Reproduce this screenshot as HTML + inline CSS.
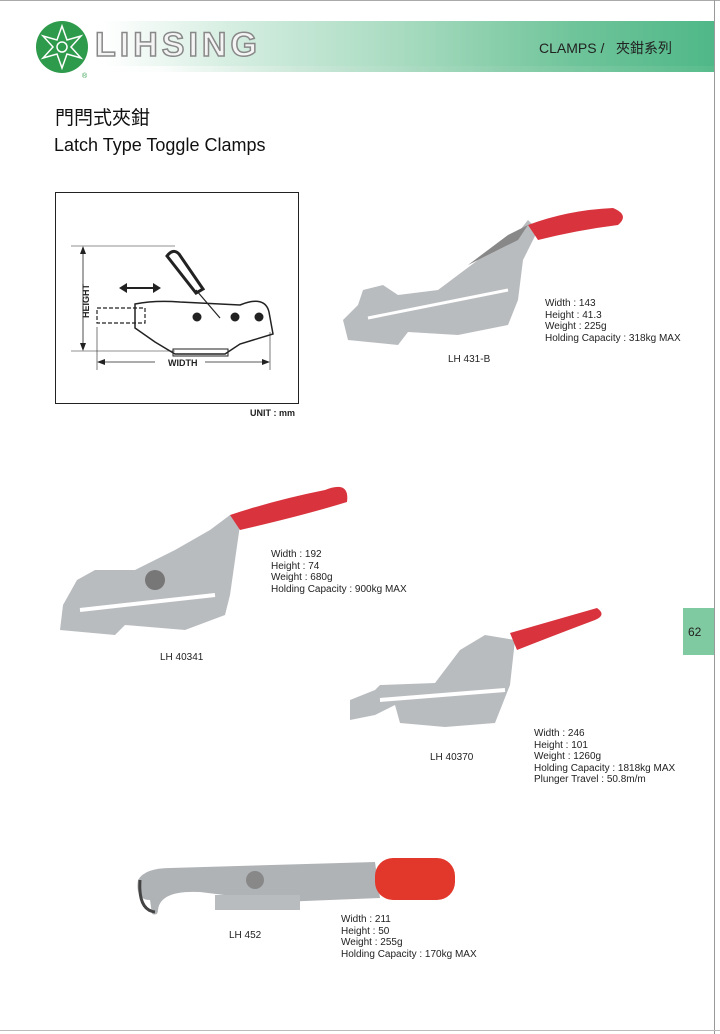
<!DOCTYPE html>
<html><head><meta charset="utf-8"><style>
body{margin:0;width:720px;height:1034px;background:#fff;position:relative;overflow:hidden;font-family:"Liberation Sans","Noto Sans CJK TC",sans-serif;}
.a{position:absolute;}
.spec{font-size:10px;line-height:11.5px;color:#222;}
.lab{font-size:10px;color:#222;}
</style></head><body>
<div class="a" style="left:0;top:0;width:720px;height:1px;background:#aaa"></div>
<div class="a" style="left:714px;top:0;width:1px;height:1034px;background:#999"></div>
<div class="a" style="left:0;top:1030px;width:720px;height:1px;background:#bbb"></div>
<div class="a" style="left:20px;top:21px;width:694px;height:51px;background:linear-gradient(to right,#fff 0%,#fff 12%,#d6eee2 30%,#a8dbc0 55%,#6fc49a 80%,#4fb888 100%)"></div>
<div class="a" style="left:20px;top:66px;width:694px;height:6px;background:linear-gradient(to right,#fff 20%,#cfe9db 40%,#8fd0af 70%,#5bbd8d 100%);opacity:.8"></div>
<svg class="a" style="left:30px;top:18px" width="64" height="62" viewBox="0 0 64 62">
<ellipse cx="32" cy="29" rx="26" ry="26" fill="#2e9a4b"/>
<g fill="none" stroke="#fff" stroke-width="1.5">
<polygon points="32,8 37,22 51,18 41,29 51,40 37,36 32,50 27,36 13,40 23,29 13,18 27,22"/>
<circle cx="32" cy="29" r="5"/>
</g>
<text x="52" y="60" font-size="7" fill="#2e9a4b" font-family="Liberation Sans">®</text>
</svg>
<div class="a" style="left:95px;top:26px;font-size:34px;font-weight:bold;letter-spacing:4px;color:#f4f4f4;-webkit-text-stroke:1.5px #888;font-family:'Liberation Sans',sans-serif;">LIHSING</div>
<div class="a" style="left:539px;top:38px;font-size:14px;color:#222">CLAMPS /&nbsp;&nbsp; 夾鉗系列</div>
<div class="a" style="left:55px;top:103px;font-size:19px;color:#111">門閂式夾鉗</div>
<div class="a" style="left:54px;top:135px;font-size:18px;color:#111">Latch Type Toggle Clamps</div>

<div class="a" style="left:55px;top:192px;width:242px;height:210px;border:1.5px solid #222"></div>
<svg class="a" style="left:55px;top:192px" width="245" height="215" viewBox="0 0 245 215">
<g stroke="#222" fill="none">
<line x1="16" y1="54" x2="120" y2="54" stroke-width="0.6"/>
<line x1="16" y1="159" x2="120" y2="159" stroke-width="0.6"/>
<line x1="28" y1="56" x2="28" y2="157" stroke-width="0.8"/>
<line x1="42" y1="135" x2="42" y2="178" stroke-width="0.6"/>
<line x1="215" y1="140" x2="215" y2="178" stroke-width="0.6"/>
<line x1="44" y1="170" x2="100" y2="170" stroke-width="0.8"/>
<line x1="150" y1="170" x2="213" y2="170" stroke-width="0.8"/>
<line x1="70" y1="96" x2="100" y2="96" stroke-width="2"/>
<path d="M112 64 Q118 56 124 62 L148 97 L141 101 Z" stroke-width="3"/>
<path d="M141 98 L165 126" stroke-width="1.2"/>
<rect x="42" y="116" width="48" height="15" stroke-width="1.2" stroke-dasharray="4,2"/>
<path d="M80 112 Q100 108 125 110 L185 113 Q210 103 214 120 L218 142 L185 152 L170 162 L120 162 L100 150 L80 136 Z" stroke-width="1.5"/>
<rect x="118" y="157" width="55" height="7" stroke-width="1"/>
<circle cx="142" cy="125" r="4" fill="#222"/><circle cx="180" cy="125" r="4" fill="#222"/><circle cx="204" cy="125" r="4" fill="#222"/>
</g>
<polygon points="64,96 72,91 72,101" fill="#222"/><polygon points="106,96 98,91 98,101" fill="#222"/>
<polygon points="28,54 25,62 31,62" fill="#222"/><polygon points="28,159 25,151 31,151" fill="#222"/>
<polygon points="42,170 50,167 50,173" fill="#222"/><polygon points="215,170 207,167 207,173" fill="#222"/>
<text x="113" y="174" font-size="9" font-weight="bold" font-family="Liberation Sans" fill="#222">WIDTH</text>
<text transform="translate(34,126) rotate(-90)" font-size="9" font-weight="bold" font-family="Liberation Sans" fill="#222">HEIGHT</text>
</svg>
<div class="a" style="left:250px;top:408px;font-size:9px;font-weight:bold;color:#222">UNIT : mm</div>

<svg class="a" style="left:338px;top:200px" width="290" height="150">
<polygon points="10,140 5,120 20,105 25,90 45,85 60,95 100,90 140,60 170,45 190,20 200,30 185,60 180,100 170,125 120,135 70,132 60,145" fill="#b9bcbf"/>
<polygon points="130,65 180,40 190,25 170,35" fill="#888"/>
<path d="M190 25 Q230 10 275 8 Q292 15 280 25 Q240 30 200 40 Z" fill="#d9343e"/>
<line x1="30" y1="118" x2="170" y2="90" stroke="#fff" stroke-width="3"/>
</svg>
<div class="a spec" style="left:545px;top:298px">Width : 143<br>Height : 41.3<br>Weight : 225g<br>Holding Capacity : 318kg MAX</div>
<div class="a lab" style="left:448px;top:354px">LH 431-B</div>

<svg class="a" style="left:55px;top:480px" width="300" height="160">
<polygon points="5,150 8,125 22,100 40,90 80,90 120,70 155,50 175,35 185,45 180,80 175,115 170,135 130,150 70,145 60,155" fill="#b9bcbf"/>
<path d="M175 35 Q220 20 270 10 Q295 0 292 22 Q250 35 185 50 Z" fill="#d9343e"/>
<line x1="25" y1="130" x2="160" y2="115" stroke="#fff" stroke-width="4"/>
<circle cx="100" cy="100" r="10" fill="#777"/>
</svg>
<div class="a spec" style="left:271px;top:549px">Width : 192<br>Height : 74<br>Weight : 680g<br>Holding Capacity : 900kg MAX</div>
<div class="a lab" style="left:160px;top:652px">LH 40341</div>

<div class="a" style="left:683px;top:608px;width:31px;height:47px;background:#7fcaa0"></div>
<div class="a" style="left:688px;top:625px;font-size:12px;color:#222">62</div>

<svg class="a" style="left:345px;top:605px" width="260" height="125">
<polygon points="5,115 5,95 30,85 35,80 90,78 115,45 140,30 170,35 165,80 150,118 100,122 55,118 50,100 30,110" fill="#b9bcbf"/>
<path d="M165 28 Q210 15 252 3 Q262 10 250 15 Q210 30 172 45 Z" fill="#d9343e"/>
<line x1="35" y1="95" x2="160" y2="85" stroke="#fff" stroke-width="4"/>
</svg>
<div class="a spec" style="left:534px;top:728px">Width : 246<br>Height : 101<br>Weight : 1260g<br>Holding Capacity : 1818kg MAX<br>Plunger Travel : 50.8m/m</div>
<div class="a lab" style="left:430px;top:752px">LH 40370</div>

<svg class="a" style="left:130px;top:850px" width="330" height="70">
<path d="M20 50 Q5 50 8 30 Q15 18 40 18 L245 12 L250 48 L150 52 L70 42 Q30 40 28 60 Q28 66 22 64 Z" fill="#b0b3b6"/>
<path d="M10 30 Q8 60 25 62" stroke="#444" stroke-width="3" fill="none"/>
<rect x="85" y="45" width="85" height="15" fill="#b9bcbf"/>
<rect x="245" y="8" width="80" height="42" rx="18" fill="#e2372b"/>
<circle cx="125" cy="30" r="9" fill="#888"/>
</svg>
<div class="a spec" style="left:341px;top:914px">Width : 211<br>Height : 50<br>Weight : 255g<br>Holding Capacity : 170kg MAX</div>
<div class="a lab" style="left:229px;top:930px">LH 452</div>
</body></html>
